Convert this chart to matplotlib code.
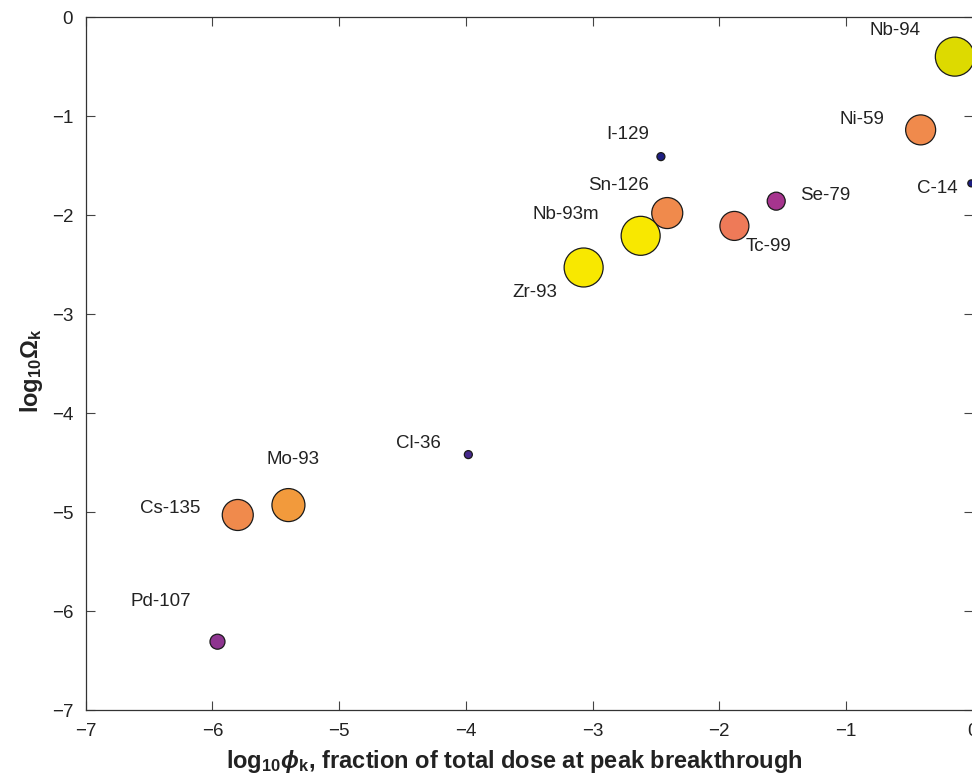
import matplotlib
matplotlib.use("Agg")
import matplotlib.pyplot as plt

plt.rcParams['font.family'] = ['Liberation Sans', 'DejaVu Sans']
plt.rcParams['mathtext.fontset'] = 'custom'
plt.rcParams['mathtext.rm'] = 'Liberation Sans'
plt.rcParams['mathtext.bf'] = 'Liberation Sans:bold'
plt.rcParams['mathtext.it'] = 'Liberation Sans:italic'
plt.rcParams['mathtext.bfit'] = 'Liberation Sans:bold:italic'

# nuclides: log10 phi_k (x), log10 Omega_k (y)
nuclides = ['Nb-94', 'Ni-59', 'C-14', 'I-129', 'Se-79', 'Tc-99', 'Sn-126',
            'Nb-93m', 'Zr-93', 'Cl-36', 'Mo-93', 'Cs-135', 'Pd-107']
log_phi = [-0.14, -0.41, -0.01, -2.46, -1.55, -1.88, -2.41,
           -2.62, -3.07, -3.98, -5.40, -5.80, -5.96]
log_omega = [-0.40, -1.14, -1.68, -1.41, -1.86, -2.11, -1.98,
             -2.21, -2.53, -4.42, -4.93, -5.03, -6.31]

# bubble diameters (px) and colours
diam = [39, 30, 7, 8, 18, 29, 31, 39, 39, 8, 33, 31, 15]
colors = ['#DDDA00', '#F08A4C', '#1E1E82', '#1E1E82', '#A6348E', '#EE7A58', '#F08A4C',
          '#F8E800', '#F8E800', '#46288C', '#F29A3C', '#F08A4C', '#8E3590']
# label offsets in pixels from the bubble centre
offsets = [(-60, 26), (-59, 10), (-34, -5), (-33, 22), (49, 6), (34, -21), (-49, 28),
           (-75, 21), (-49, -25), (-50, 11), (5, 46), (-68, 6), (-57, 40)]

fig = plt.figure(figsize=(9.72, 7.78), dpi=100)
ax = fig.add_axes([0.0882, 0.0874, 0.9124, 0.8907])

sizes = [(d * 0.72) ** 2 for d in diam]
ax.scatter(log_phi, log_omega, s=sizes, c=colors, edgecolors='#1a1a1a',
           linewidths=0.9, zorder=3)

for name, x, y, off in zip(nuclides, log_phi, log_omega, offsets):
    ax.annotate(name, (x, y), xytext=off, textcoords='offset pixels',
                ha='center', va='center', fontsize=13.5, color='#222222')

ax.set_xlim(-7, 0)
ax.set_ylim(-7, 0)
ax.set_xticks(range(-7, 1))
ax.set_yticks(range(-7, 1))
ax.tick_params(direction='in', length=6.5, width=0.8, top=True, right=True,
               labelsize=13.5, colors='#444444', labelcolor='#222222', pad=9)
for sp in ax.spines.values():
    sp.set_color('#333333')
    sp.set_linewidth(0.9)

ax.set_xlabel(r'log$_{\mathbf{10}}\mathbfit{\phi}_{\mathbf{k}}$, fraction of total dose at peak breakthrough',
              fontsize=17, fontweight='bold', color='#222222')
ax.xaxis.set_label_coords(0.483, -0.055)
ax.set_ylabel(r'$\mathbf{log_{10}\Omega_k}$', fontsize=17, fontweight='bold',
              color='#222222')
ax.yaxis.set_label_coords(-0.046, 0.49)

fig.savefig('out.png', dpi=100)
